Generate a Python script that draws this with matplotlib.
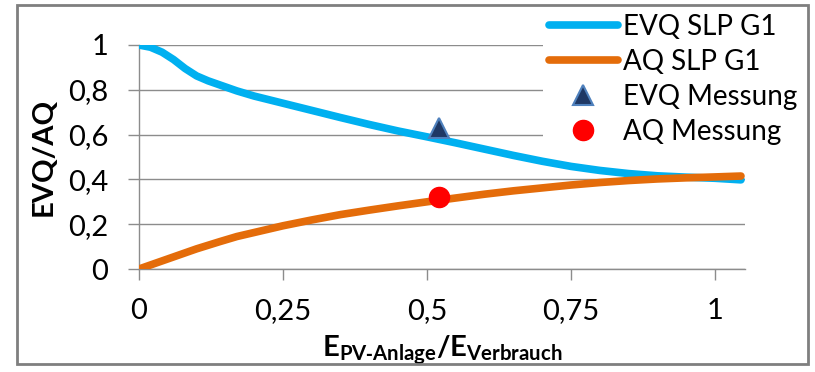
import matplotlib
matplotlib.use("Agg")
import matplotlib.pyplot as plt
from matplotlib.patches import Rectangle
from matplotlib.ticker import MultipleLocator, FuncFormatter

config = {"font.family": ["Lato", "DejaVu Sans"],
          "font.size": 21,
          "mathtext.fontset": "custom",
          "mathtext.rm": "Lato",
          "mathtext.bf": "Lato:bold"}
plt.rcParams.update(config)

# Kurvendaten
x_slp = [0, 0.02, 0.04, 0.06, 0.08, 0.1, 0.12, 0.14, 0.17, 0.2, 0.25, 0.3, 0.35,
         0.4, 0.45, 0.5, 0.55, 0.6, 0.65, 0.7, 0.75, 0.8, 0.85, 0.9, 0.95, 1.0, 1.045]
evq_slp = [1.0, 0.99, 0.968, 0.935, 0.895, 0.862, 0.84, 0.822, 0.795, 0.772, 0.74, 0.708,
           0.676, 0.645, 0.616, 0.59, 0.563, 0.535, 0.507, 0.481, 0.458, 0.44, 0.426,
           0.416, 0.41, 0.405, 0.398]
aq_slp = [0.0, 0.018, 0.036, 0.054, 0.072, 0.09, 0.106, 0.122, 0.145, 0.163, 0.193, 0.219,
          0.243, 0.263, 0.282, 0.3, 0.317, 0.334, 0.349, 0.362, 0.375, 0.386, 0.395,
          0.402, 0.407, 0.411, 0.415]

# Messwerte
x_mess = [0.52]
evq_mess = [0.63]
aq_mess = [0.322]

x_ticks = [0, 0.25, 0.5, 0.75, 1]

fig = plt.figure(figsize=(8.15, 3.72), dpi=100)
ax = fig.add_axes([139 / 815, 1 - 269 / 372, (745 - 139) / 815, (269 - 45) / 372])

ax.plot(x_slp, evq_slp, color="#00B0F0", linewidth=5.5, label="EVQ SLP G1",
        solid_capstyle="round", solid_joinstyle="round", zorder=3)
ax.plot(x_slp, aq_slp, color="#E46C0A", linewidth=5.5, label="AQ SLP G1",
        solid_capstyle="round", solid_joinstyle="round", zorder=3)
ax.plot(x_mess, evq_mess, linestyle="none", marker="^", markersize=15,
        markerfacecolor="#1F3864", markeredgecolor="#4F81BD", markeredgewidth=1.5,
        label="EVQ Messung", zorder=4)
ax.plot(x_mess, aq_mess, linestyle="none", marker="o", markersize=14.5,
        markerfacecolor="#FF0000", markeredgecolor="#FF0000",
        label="AQ Messung", zorder=4)

# Achsen
grid_color = "#8C8C8C"
ax.set_xlim(0, 1.052)
ax.set_ylim(0, 1)
ax.set_xticks(x_ticks)
ax.yaxis.set_major_locator(MultipleLocator(0.2))
comma = FuncFormatter(lambda v, p: f"{v:g}".replace(".", ","))
ax.xaxis.set_major_formatter(comma)
ax.yaxis.set_major_formatter(comma)
ax.grid(axis="y", color=grid_color, linewidth=1.0)
ax.set_axisbelow(True)
for side in ["top", "right"]:
    ax.spines[side].set_visible(False)
for side in ["left", "bottom"]:
    ax.spines[side].set_color(grid_color)
    ax.spines[side].set_linewidth(1.0)
ax.tick_params(axis="both", direction="out", length=8, width=1.0,
               color=grid_color, labelsize=21)
ax.tick_params(axis="y", pad=14)
ax.tick_params(axis="x", pad=13)

ax.set_ylabel("EVQ/AQ", fontsize=21, fontweight="bold")
ax.yaxis.set_label_coords((57 - 139) / 606, 0.5)
xlabel = ("$\\mathbf{E}_{\\mathbf{PV\u2011Anlage}}"
          "\\mathbf{/E}_{\\mathbf{Verbrauch}}$")
ax.set_xlabel(xlabel, fontsize=21, labelpad=7)

# Legende
leg = ax.legend(loc="upper left", bbox_to_anchor=(543 / 815, 1 - 8 / 372),
                bbox_transform=fig.transFigure, frameon=True, fancybox=False,
                edgecolor="none", facecolor="white", framealpha=1,
                handlelength=2.5, handletextpad=0.18, labelspacing=0.33,
                borderpad=0.2, borderaxespad=0, fontsize=20)
leg.set_zorder(5)

# Rahmen
fig.patches.append(Rectangle((17 / 815, 1 - 364 / 372), (808 - 17) / 815, (364 - 5) / 372,
                             transform=fig.transFigure, fill=False,
                             edgecolor="#7F7F7F", linewidth=2.0))

fig.savefig("out.png", dpi=100)
